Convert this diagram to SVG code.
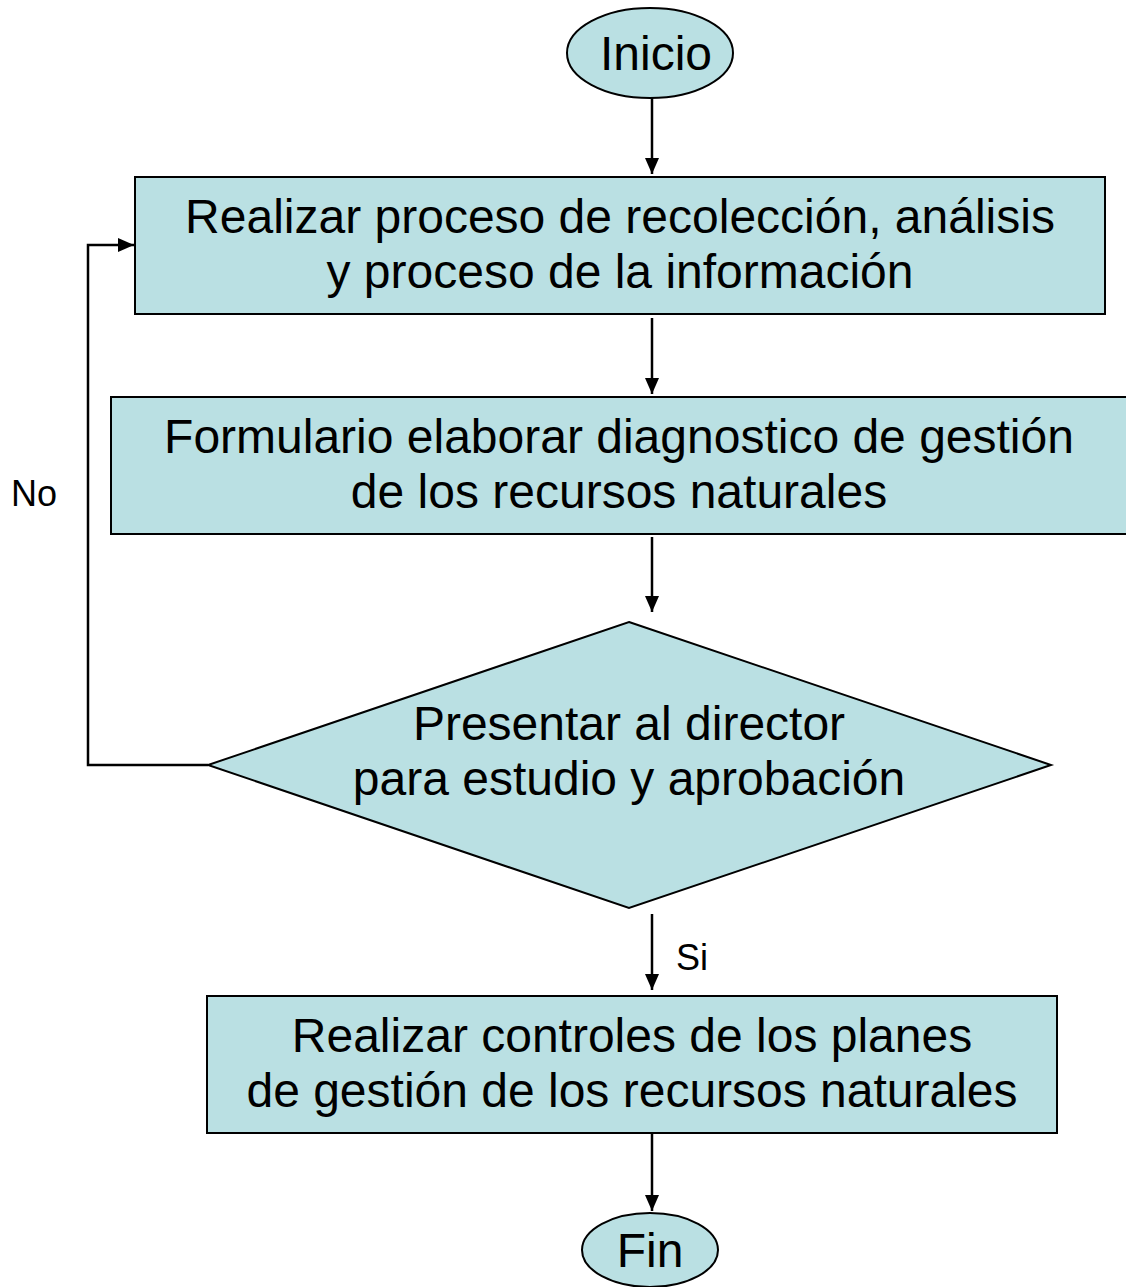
<svg xmlns="http://www.w3.org/2000/svg" width="1126" height="1287" viewBox="0 0 1126 1287">
<style>
.shape{fill:#BAE0E3;stroke:#000;stroke-width:2}
.t{font-family:"Liberation Sans",Arial,sans-serif;font-size:48px;fill:#000;text-anchor:middle}
.lbl{font-family:"Liberation Sans",Arial,sans-serif;font-size:36px;fill:#000}
.c{fill:none;stroke:#000;stroke-width:2.5}
</style>
<defs>
<marker id="ah" markerWidth="16" markerHeight="14" refX="16" refY="7" orient="auto" markerUnits="userSpaceOnUse">
<path d="M0,0 L16,7 L0,14 Z" fill="#000"/>
</marker>
</defs>
<rect width="1126" height="1287" fill="#fff"/>
<g id="inicio">
<ellipse class="shape" cx="650" cy="53" rx="83" ry="45"/>
<text class="t" x="656" y="70">Inicio</text>
</g>
<g id="recoleccion">
<rect class="shape" x="135" y="177" width="970" height="137"/>
<text class="t" x="620" y="233">Realizar proceso de recolección, análisis</text>
<text class="t" x="620" y="288">y proceso de la información</text>
</g>
<g id="diagnostico">
<rect class="shape" x="111" y="397" width="1020" height="137"/>
<text class="t" x="619" y="453">Formulario elaborar diagnostico de gestión</text>
<text class="t" x="619" y="508">de los recursos naturales</text>
</g>
<g id="decision">
<polygon class="shape" points="629,622 1051,765 629,908 208,765"/>
<text class="t" x="629" y="740">Presentar al director</text>
<text class="t" x="629" y="795">para estudio y aprobación</text>
</g>
<g id="controles">
<rect class="shape" x="207" y="996" width="850" height="137"/>
<text class="t" x="632" y="1052">Realizar controles de los planes</text>
<text class="t" x="632" y="1107">de gestión de los recursos naturales</text>
</g>
<g id="fin">
<ellipse class="shape" cx="650" cy="1250" rx="68" ry="37"/>
<text class="t" x="650" y="1267">Fin</text>
</g>
<g id="connectors">
<line class="c" x1="652" y1="98" x2="652" y2="174" marker-end="url(#ah)"/>
<line class="c" x1="652" y1="318" x2="652" y2="394" marker-end="url(#ah)"/>
<line class="c" x1="652" y1="537" x2="652" y2="612" marker-end="url(#ah)"/>
<line class="c" x1="652" y1="914" x2="652" y2="990" marker-end="url(#ah)"/>
<line class="c" x1="652" y1="1133" x2="652" y2="1211" marker-end="url(#ah)"/>
<polyline class="c" points="208,765 88,765 88,245 134,245" marker-end="url(#ah)"/>
<text class="lbl" x="11" y="506">No</text>
<text class="lbl" x="676" y="970">Si</text>
</g>
</svg>
